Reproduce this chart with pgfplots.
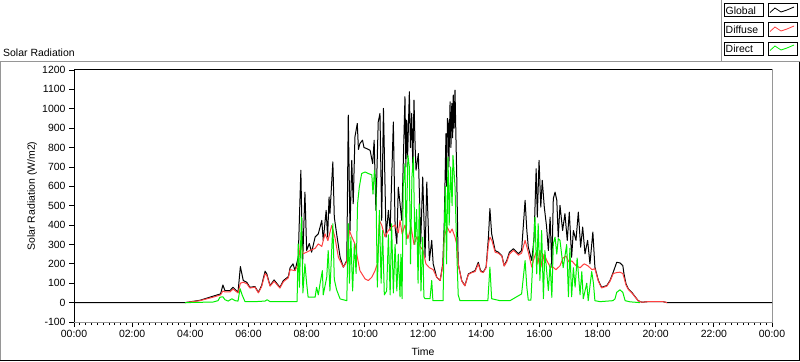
\documentclass[border=0pt]{standalone}
\usepackage{fontspec}
\setmainfont{Liberation Sans}
\usepackage{pgfplots}
\pgfplotsset{compat=1.18}
\definecolor{difred}{RGB}{255,64,64}
\definecolor{dirgreen}{RGB}{0,240,0}
\definecolor{frgray}{RGB}{150,150,150}
\begin{document}
\begin{tikzpicture}[x=1bp,y=1bp,font=\fontsize{10.5}{12}\selectfont]
\useasboundingbox (0,0) rectangle (800,361);
% panel frame
\draw[frgray,line width=1.5bp] (0.75,0.5) -- (0.75,299.5) -- (721,299.5);
\draw[frgray,line width=1bp] (721,299.5) -- (800,299.5);
\draw[frgray,line width=1bp] (721.5,299.5) -- (721.5,361);
\draw[black,line width=1bp] (0,0.5) -- (799.5,0.5) -- (799.5,299.5);
\node[anchor=base west,inner sep=0pt] at (3,305) {Solar Radiation};
% legend
\foreach \yy/\nm/\col in {344/Global/black,325/Diffuse/difred,306/Direct/dirgreen}{
  \draw[black,line width=1bp,fill=white] (724,\yy) rectangle (763,\yy+13);
  \node[anchor=base west,inner sep=0pt] at (725.5,\yy+2.5) {\nm};
  \draw[black,line width=1bp,fill=white] (768,\yy) rectangle (797,\yy+13);
  \draw[\col,line width=0.8bp] (770,\yy+4.5) -- (775,\yy+9) -- (781,\yy+5) -- (787,\yy+7) -- (794,\yy+10);
}
\begin{axis}[
  at={(74bp,39bp)}, anchor=south west, scale only axis,
  width=698bp, height=252bp,
  xmin=0, xmax=24, ymin=-100, ymax=1200,
  clip=false,
  axis line style={frgray,line width=1bp},
  tick style={black,line width=0.8bp},
  major tick length=5bp, minor tick length=3bp,
  tick align=outside,
  xtick pos=bottom, ytick pos=left,
  xtick={0,2,...,24},
  xticklabels={00:00,02:00,04:00,06:00,08:00,10:00,12:00,14:00,16:00,18:00,20:00,22:00,00:00},
  minor x tick num=9,
  ytick={-100,0,...,1200},
  /pgf/number format/assume math mode=true,
  /pgf/number format/1000 sep={},
  ticklabel style={font=\fontsize{10.5}{12}\selectfont},
  xlabel={Time}, ylabel={Solar Radiation (W/m2)},
  xlabel style={at={(axis description cs:0.5,-0.119)},anchor=center},
  ylabel style={at={(axis description cs:-0.060,0.5)},anchor=center},
  every axis plot/.append style={line width=1bp,line join=round},
]
\addplot[black] coordinates {
(0,0) (3.82,0) (4.33,12) (4.78,33) (5.04,45) (5.12,91) (5.19,62) (5.36,62) (5.47,79) (5.64,53) (5.72,186) (5.82,114) (5.94,105) (6.05,79) (6.22,83) (6.34,53) (6.45,88) (6.57,162) (6.63,148) (6.74,88) (6.88,117) (7.08,79) (7.20,114) (7.37,134) (7.43,180) (7.53,200) (7.60,165) (7.71,234) (7.80,683) (7.86,201) (7.94,570) (8.00,269) (8.09,305) (8.17,260) (8.29,338) (8.40,355) (8.52,424) (8.57,321) (8.67,476) (8.72,338) (8.77,545) (8.80,459) (8.90,726) (8.95,441) (9.03,355) (9.15,234) (9.26,183) (9.38,217) (9.43,967) (9.49,372) (9.55,734) (9.60,510) (9.66,855) (9.74,924) (9.78,790) (9.83,821) (9.92,838) (9.97,800) (10.06,795) (10.18,786) (10.27,717) (10.32,838) (10.38,476) (10.46,932) (10.52,976) (10.58,424) (10.64,1002) (10.73,338) (10.81,476) (10.87,372) (10.98,932) (11.04,390) (11.10,303) (11.15,596) (11.27,424) (11.38,1062) (11.41,700) (11.44,941) (11.47,750) (11.53,1088) (11.57,800) (11.61,976) (11.65,700) (11.69,1045) (11.73,800) (11.76,683) (11.84,769) (11.92,303) (11.99,648) (12.07,234) (12.13,622) (12.22,217) (12.30,321) (12.35,200) (12.47,131) (12.59,114) (12.68,200) (12.73,407) (12.76,650) (12.79,872) (12.81,600) (12.84,950) (12.87,924) (12.89,700) (12.93,1036) (12.96,800) (12.99,1028) (13.02,850) (13.04,1071) (13.07,900) (13.10,1096) (13.16,648) (13.21,200) (13.33,114) (13.44,88) (13.56,148) (13.68,157) (13.79,165) (13.90,208) (13.98,165) (14.07,157) (14.17,183) (14.25,338) (14.30,485) (14.36,355) (14.48,269) (14.59,260) (14.71,243) (14.79,191) (14.88,217) (14.97,260) (15.11,278) (15.28,252) (15.39,269) (15.51,528) (15.57,372) (15.62,286) (15.74,217) (15.82,338) (15.89,691) (15.93,441) (15.99,734) (16.05,493) (16.10,631) (16.17,493) (16.25,390) (16.31,269) (16.37,441) (16.43,183) (16.48,536) (16.54,570) (16.60,528) (16.65,338) (16.71,502) (16.80,372) (16.88,459) (16.96,321) (17.03,467) (17.11,234) (17.17,372) (17.26,321) (17.34,467) (17.42,286) (17.49,390) (17.57,252) (17.66,321) (17.74,200) (17.84,364) (17.91,183) (18.03,114) (18.14,79) (18.32,88) (18.43,114) (18.54,157) (18.66,208) (18.77,205) (18.87,191) (18.91,148) (18.98,97) (19.06,71) (19.18,53) (19.29,31) (19.40,10) (19.52,2) (19.74,5) (20.25,5) (20.39,0) (24,0)
};
\addplot[difred] coordinates {
(3.82,0) (4.33,10) (4.78,28) (5.04,40) (5.12,60) (5.19,55) (5.36,55) (5.47,70) (5.64,50) (5.72,100) (5.82,105) (5.94,98) (6.05,75) (6.22,80) (6.34,50) (6.45,82) (6.57,150) (6.63,140) (6.74,85) (6.88,110) (7.08,75) (7.20,108) (7.37,128) (7.43,170) (7.60,165) (7.71,200) (7.80,321) (7.87,252) (8.00,260) (8.12,269) (8.29,280) (8.40,303) (8.52,290) (8.63,355) (8.73,320) (8.86,398) (8.97,338) (9.09,234) (9.26,183) (9.38,210) (9.47,372) (9.55,340) (9.66,303) (9.72,252) (9.83,165) (10.01,122) (10.12,114) (10.24,131) (10.35,165) (10.43,200) (10.50,424) (10.58,400) (10.69,340) (10.81,372) (10.92,390) (11.04,400) (11.15,360) (11.21,424) (11.28,355) (11.38,400) (11.48,330) (11.59,390) (11.69,300) (11.79,340) (11.90,290) (12.00,270) (12.10,200) (12.22,180) (12.35,170) (12.47,131) (12.59,114) (12.68,190) (12.73,340) (12.83,390) (12.93,360) (13.00,380) (13.10,338) (13.16,300) (13.21,200) (13.33,112) (13.44,86) (13.56,145) (13.68,155) (13.79,160) (13.90,200) (13.98,160) (14.07,155) (14.17,180) (14.25,303) (14.30,338) (14.37,320) (14.48,260) (14.59,255) (14.71,240) (14.79,188) (14.88,210) (14.97,250) (15.11,270) (15.28,245) (15.39,255) (15.51,321) (15.62,260) (15.74,183) (15.82,230) (15.89,260) (15.95,200) (16.02,269) (16.09,183) (16.16,250) (16.25,220) (16.37,183) (16.47,183) (16.57,170) (16.71,190) (16.81,230) (16.92,240) (17.02,210) (17.12,215) (17.26,190) (17.40,180) (17.54,200) (17.67,190) (17.81,170) (17.91,175) (18.03,110) (18.14,76) (18.32,85) (18.43,110) (18.54,150) (18.66,155) (18.77,157) (18.87,150) (18.91,130) (18.98,90) (19.06,68) (19.18,50) (19.29,30) (19.40,9) (19.52,2) (19.74,5) (20.25,5) (20.39,0)
};
\addplot[dirgreen] coordinates {
(3.82,0) (4.78,3) (4.95,10) (5.02,28) (5.12,30) (5.19,15) (5.30,8) (5.43,20) (5.54,10) (5.64,8) (5.71,72) (5.78,40) (5.88,5) (6.22,5) (6.57,8) (6.64,15) (6.74,5) (7.67,5) (7.71,303) (7.75,79) (7.82,441) (7.87,50) (7.94,200) (8.00,98) (8.05,28) (8.29,28) (8.34,79) (8.40,40) (8.46,97) (8.54,165) (8.57,40) (8.69,131) (8.74,269) (8.80,60) (8.90,407) (8.95,120) (9.03,66) (9.15,19) (9.38,10) (9.43,407) (9.47,100) (9.52,338) (9.58,60) (9.64,303) (9.70,150) (9.75,510) (9.81,596) (9.89,666) (10.01,674) (10.12,666) (10.24,659) (10.28,560) (10.33,683) (10.38,600) (10.43,80) (10.50,476) (10.56,100) (10.61,372) (10.67,40) (10.75,60) (10.81,350) (10.87,40) (10.92,407) (10.98,50) (11.04,300) (11.10,60) (11.15,250) (11.21,30) (11.24,250) (11.28,20) (11.32,600) (11.38,717) (11.42,300) (11.48,760) (11.53,700) (11.57,200) (11.62,650) (11.67,751) (11.72,300) (11.78,480) (11.83,100) (11.87,510) (11.93,60) (11.99,338) (12.03,30) (12.07,20) (12.24,20) (12.30,114) (12.34,10) (12.69,10) (12.72,300) (12.77,600) (12.81,200) (12.86,751) (12.90,400) (12.95,700) (13.00,500) (13.03,760) (13.10,600) (13.16,269) (13.21,40) (13.27,10) (14.23,10) (14.30,183) (14.36,20) (14.65,10) (14.99,10) (15.39,45) (15.51,217) (15.57,79) (15.62,13) (15.71,13) (15.85,441) (15.91,148) (15.96,407) (16.02,114) (16.08,372) (16.14,20) (16.19,269) (16.31,62) (16.37,200) (16.43,27) (16.48,303) (16.54,338) (16.60,250) (16.65,330) (16.71,321) (16.82,180) (16.94,300) (17.00,30) (17.05,280) (17.11,30) (17.17,180) (17.23,80) (17.30,230) (17.40,40) (17.46,160) (17.51,20) (17.63,100) (17.68,10) (17.80,160) (17.86,100) (17.91,10) (18.09,5) (18.53,10) (18.60,19) (18.66,53) (18.77,66) (18.87,53) (18.95,10) (19.12,4) (19.46,0)
};
\draw[black,line width=1bp] (rel axis cs:0,0) -- (rel axis cs:0,1) -- (rel axis cs:1,1);
\end{axis}
\end{tikzpicture}
\end{document}
